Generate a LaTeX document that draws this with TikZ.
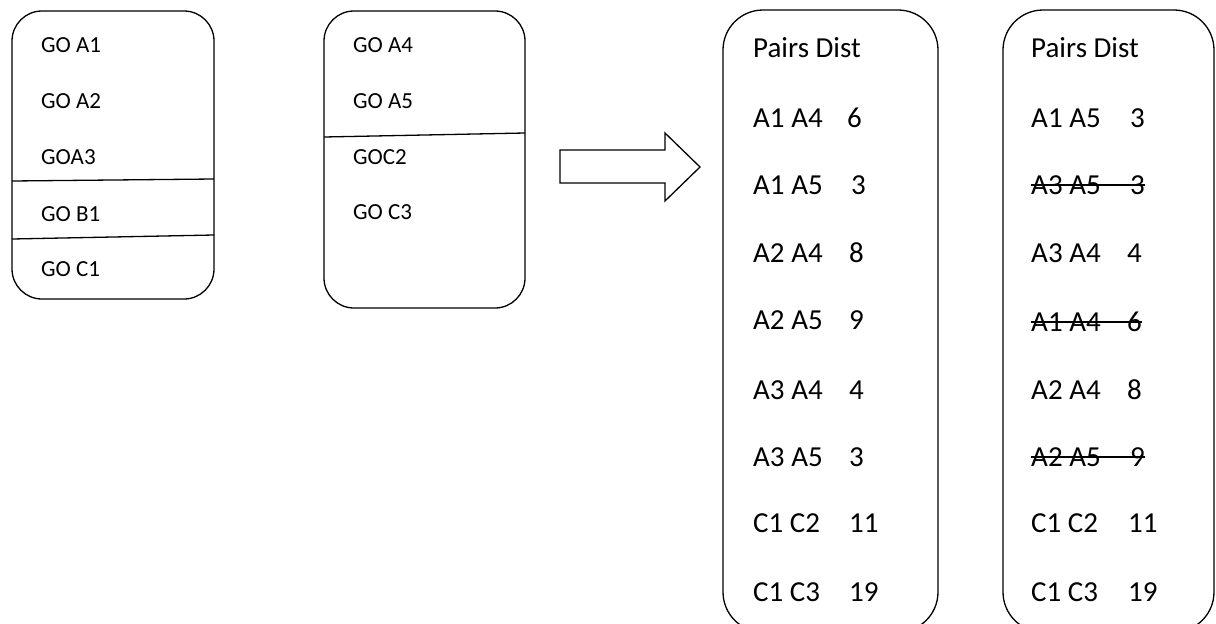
\documentclass[tikz,border=0pt]{standalone}
\usepackage{fontspec}
\setmainfont{Carlito}
\begin{document}
\begin{tikzpicture}[x=1pt,y=-1pt,
  box/.style={draw,line width=1.3pt,rounded corners=30pt},
  bigbox/.style={draw,line width=1.3pt,rounded corners=40pt},
  sep/.style={line width=1.3pt},
  small/.style={anchor=base west,inner sep=0pt,yshift=-7.3pt,font=\fontsize{23}{27}\selectfont},
  big/.style={anchor=base west,inner sep=0pt,yshift=-9.2pt,font=\fontsize{29}{33}\selectfont},
  strike/.style={line width=1.3pt}]
\clip (0,0) rectangle (1216,624);
\fill[white] (0,0) rectangle (1216,624);

% first group box
\draw[box] (12,11) rectangle (214,299);
\draw[sep] (12,181) -- (214,179);
\draw[sep] (12,239) -- (214,235);
\node[small] (g1) at (41,45) {GO A1};
\node[small] (g2) at (41,101) {GO A2};
\node[small] (g3) at (41,157) {GOA3};
\node[small] (g4) at (41,214) {GO B1};
\node[small] (g5) at (41,269) {GO C1};

% second group box
\draw[box] (324,11) rectangle (525,308);
\draw[sep] (324,137) -- (525,133);
\node[small] (h1) at (353,45) {GO A4};
\node[small] (h2) at (353,101) {GO A5};
\node[small] (h3) at (353,157) {GOC2};
\node[small] (h4) at (353,212) {GO C3};

% block arrow
\draw[line width=1.3pt] (560,150) -- (665,150) -- (665,133) -- (700,167)
  -- (665,201) -- (665,183) -- (560,183) -- cycle;

% pair distance table
\draw[bigbox] (723,10) rectangle (938,632);
\node[big] (pt) at (753,48) {Pairs Dist};
\foreach \n/\y/\p/\d/\dx in {1/118/A1 A4/6/847, 2/185/A1 A5/3/851, 3/253/A2 A4/8/849,
  4/320/A2 A5/9/849, 5/390/A3 A4/4/849, 6/457/A3 A5/3/849, 7/523/C1 C2/11/849, 8/592/C1 C3/19/849}{
  \node[big] (p\n) at (753,\y) {\p};
  \node[big] (d\n) at (\dx,\y) {\d};
}

% filtered pair table
\draw[bigbox] (1003,10) rectangle (1214,632);
\node[big] (qt) at (1031,48) {Pairs Dist};
\foreach \n/\y/\p/\d/\dx in {1/118/A1 A5/3/1130, 2/185/A3 A5/3/1130, 3/253/A3 A4/4/1127,
  4/322/A1 A4/6/1127, 5/390/A2 A4/8/1127, 6/457/A2 A5/9/1130, 7/523/C1 C2/11/1128, 8/592/C1 C3/19/1128}{
  \node[big] (q\n) at (1031,\y) {\p};
  \node[big] (e\n) at (\dx,\y) {\d};
}
% struck-out rows
\draw[strike] ([yshift=9.2pt]q2.base west) -- ([yshift=9.2pt]e2.base east);
\draw[strike] ([yshift=9.2pt]q4.base west) -- ([yshift=9.2pt]e4.base east);
\draw[strike] ([yshift=9.2pt]q6.base west) -- ([yshift=9.2pt]e6.base east);
\end{tikzpicture}
\end{document}
